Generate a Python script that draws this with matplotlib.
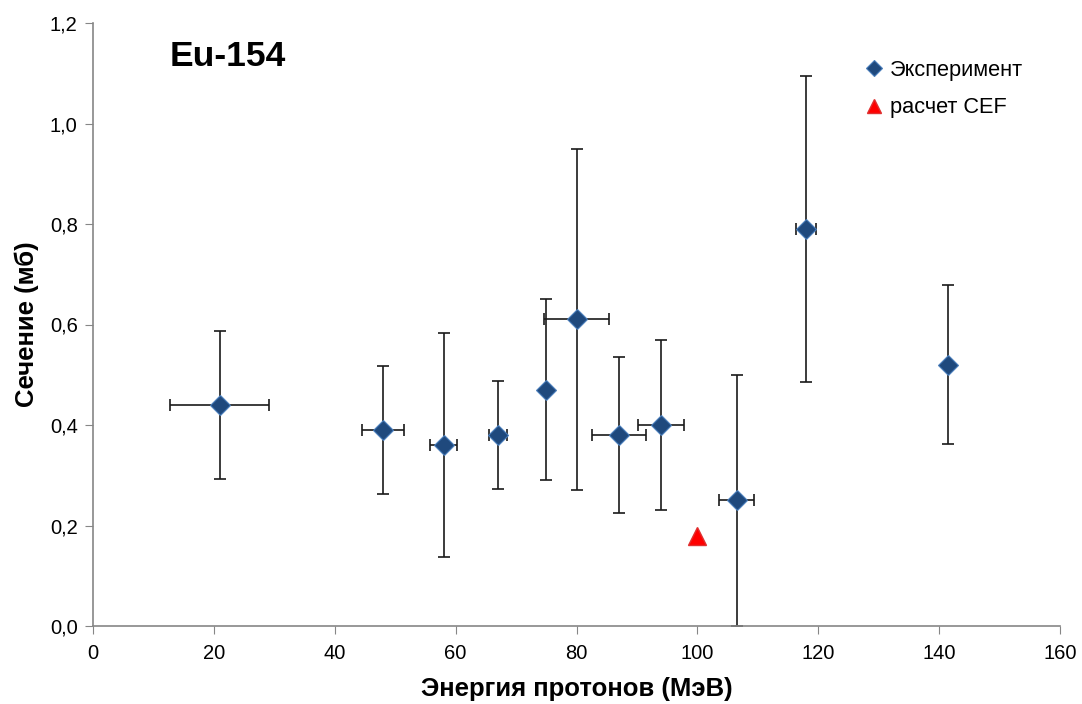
import matplotlib.pyplot as plt
from matplotlib.ticker import FuncFormatter

plt.rcParams['font.family'] = ['Liberation Sans', 'DejaVu Sans']

# experimental data
energy = [21, 48, 58, 67, 75, 80, 87, 94, 106.5, 118, 141.5]
energy_err = [8.2, 3.5, 2.2, 1.5, 0, 5.3, 4.5, 3.8, 2.9, 1.7, 0]
sigma = [0.44, 0.39, 0.36, 0.38, 0.47, 0.61, 0.38, 0.40, 0.25, 0.79, 0.52]
sigma_err = [0.148, 0.127, 0.223, 0.108, 0.18, 0.34, 0.155, 0.17, 0.25, 0.304, 0.158]

# calculation
calc_energy = [100]
calc_sigma = [0.18]

fig = plt.figure(figsize=(10.82, 7.04), dpi=100)
ax = fig.add_axes([93/1082, 1 - 626/704, (1060-93)/1082, (626-23)/704])

ax.errorbar(energy, sigma, xerr=energy_err, yerr=sigma_err, fmt='none',
            ecolor='#1a1a1a', elinewidth=1.2, capsize=4.5, capthick=1.2, zorder=2)
ax.plot(energy, sigma, 'D', color='#1F497D', markeredgecolor='#4A7EBB',
        markeredgewidth=0.8, ms=10, ls='none', label='Эксперимент', zorder=3)
ax.plot(calc_energy, calc_sigma, '^', color='#FF0000', markeredgecolor='#E03030',
        ms=13.5, ls='none', label='расчет CEF', zorder=3)

ax.set_xlim(0, 160)
ax.set_ylim(0, 1.2)
ax.set_xticks(range(0, 161, 20))
ax.set_yticks([0, 0.2, 0.4, 0.6, 0.8, 1.0, 1.2])
ax.yaxis.set_major_formatter(FuncFormatter(lambda v, p: f'{v:.1f}'.replace('.', ',')))

for s in ['top', 'right']:
    ax.spines[s].set_visible(False)
for s in ['left', 'bottom']:
    ax.spines[s].set_color('#868686')
    ax.spines[s].set_linewidth(1.2)
ax.tick_params(direction='out', length=6, color='#868686', labelsize=14.5)
ax.tick_params(axis='x', pad=7)
ax.tick_params(axis='y', pad=5)

ax.set_xlabel('Энергия протонов (МэВ)', fontsize=18.5, fontweight='bold', labelpad=10)
ax.set_ylabel('Сечение (мб)', fontsize=18.5, fontweight='bold', labelpad=8)

ax.text(0.079, 0.972, 'Eu-154', transform=ax.transAxes, fontsize=25.5,
        fontweight='bold', va='top', ha='left')

ax.legend(loc='upper left', bbox_to_anchor=(0.785, 0.953), frameon=False,
          fontsize=15.7, handletextpad=0.15, handlelength=1.2, labelspacing=0.75,
          borderaxespad=0.0, markerscale=0.78)

fig.savefig('out.png', dpi=100)
